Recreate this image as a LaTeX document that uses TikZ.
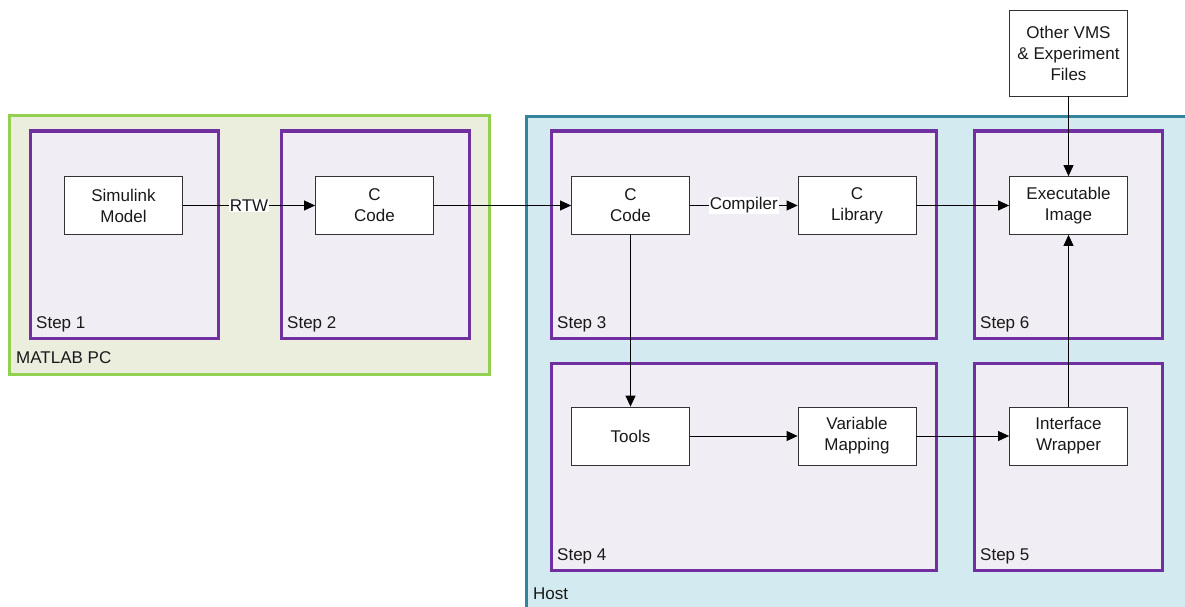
\documentclass[tikz,border=0pt]{standalone}
\usepackage{fontspec}
\setmainfont{Liberation Sans}
\usetikzlibrary{arrows.meta,positioning}
\definecolor{stagepurple}{HTML}{7030A0}
\definecolor{stagefill}{HTML}{F0EEF4}
\definecolor{pcgreen}{HTML}{92D050}
\definecolor{pcfill}{HTML}{EBEEDD}
\definecolor{hostteal}{HTML}{31849B}
\definecolor{hostfill}{HTML}{D3EAF0}

\begin{document}
\begin{tikzpicture}[x=1pt,y=-1pt,
    >={Triangle[length=11pt,width=10pt]},
    every node/.style={font=\fontsize{17}{21}\selectfont, text=black!90},
    region/.style={line width=3pt, inner sep=0pt},
    stage/.style={draw=stagepurple, fill=stagefill, line width=3pt, minimum width=188pt, minimum height=207pt, inner sep=0pt},
    blk/.style={draw=black!80, fill=white, line width=0.8pt, minimum width=118pt, minimum height=58pt, align=center, inner sep=0pt},
    steplabel/.style={anchor=base west, inner sep=0pt},
    flow/.style={->, line width=0.8pt}]
    \useasboundingbox (0,0) rectangle (1185,607);

    % machines
    \node [region, draw=pcgreen, fill=pcfill, minimum width=480pt, minimum height=258pt] (pc) at (249,245) {};
    \node [region, draw=hostteal, fill=hostfill, minimum width=680pt, minimum height=510pt] (host) at (866,372) {};
    \node [steplabel] (pclab) at (16,363) {MATLAB PC};
    \node [steplabel] (hostlab) at (533,599) {Host};

    % steps
    \node [stage] (s1) at (124,234.5) {};
    \node [stage] (s2) at (375,234.5) {};
    \node [stage, minimum width=385pt] (s3) at (743.5,234.5) {};
    \node [stage, minimum width=385pt] (s4) at (743.5,466.5) {};
    \node [stage] (s5) at (1068,466.5) {};
    \node [stage] (s6) at (1068,234.5) {};
    \node [steplabel] (s1lab) at (36,328) {Step 1};
    \node [steplabel] (s2lab) at (287,328) {Step 2};
    \node [steplabel] (s3lab) at (557,328) {Step 3};
    \node [steplabel] (s4lab) at (557,560) {Step 4};
    \node [steplabel] (s5lab) at (980,560) {Step 5};
    \node [steplabel] (s6lab) at (980,328) {Step 6};

    % blocks
    \node [blk] (sim) at (123.5,205.5) {Simulink\\Model};
    \node [blk] (code2) at (374.5,205.5) {C\\Code};
    \node [blk] (code3) at (630.5,205.5) {C\\Code};
    \node [blk] (lib) at (857,205.5) {C\\Library};
    \node [blk] (exe) at (1068.5,205.5) {Executable\\Image};
    \node [blk, minimum height=86pt] (other) at (1068.5,53) {Other VMS\\\& Experiment\\Files};
    \node [blk] (tools) at (630.5,436) {Tools};
    \node [blk] (varmap) at (857,436) {Variable\\Mapping};
    \node [blk] (wrap) at (1068.5,436) {Interface\\Wrapper};

    \draw [flow] (sim) -- node[fill=white, inner sep=1pt] (rtw) {RTW} (code2);
    \draw [flow] (code2) -- (code3);
    \draw [flow] (code3) -- node[fill=white, inner sep=1pt] (comp) {Compiler} (lib);
    \draw [flow] (lib) -- (exe);
    \draw [flow] (other) -- (exe);
    \draw [flow] (code3) -- (tools);
    \draw [flow] (tools) -- (varmap);
    \draw [flow] (varmap) -- (wrap);
    \draw [flow] (wrap) -- (exe);
\end{tikzpicture}
\end{document}
